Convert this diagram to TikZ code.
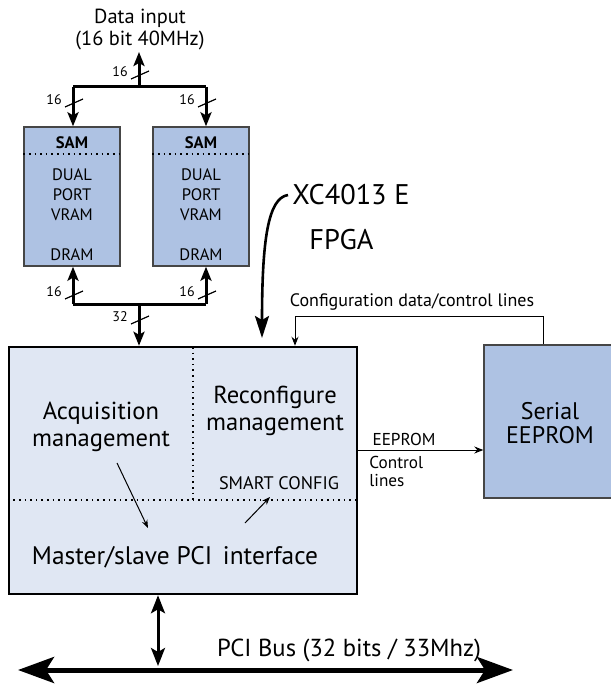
\documentclass[tikz,border=0pt]{standalone}
\usepackage{fontspec}
\setmainfont{PT Sans}
\usetikzlibrary{arrows.meta, positioning}

\definecolor{ramblue}{RGB}{174,194,227}
\definecolor{fpgablue}{RGB}{224,231,243}
\definecolor{edge}{RGB}{70,70,70}

\begin{document}
\begin{tikzpicture}[x=0.5pt, y=-0.5pt,
  ram/.style={draw=edge, line width=0.7pt, fill=ramblue, minimum width=48pt, minimum height=69.5pt, inner sep=0pt},
  ramtxt/.style={font=\fontsize{8.3pt}{10pt}\selectfont, align=center, inner sep=0pt},
  sep/.style={dotted, line width=0.8pt},
  bus/.style={line width=1.5pt, -{Stealth[length=7pt, width=5.5pt, inset=1.5pt]}},
  slash/.style={line width=0.6pt},
  width/.style={font=\fontsize{7pt}{8pt}\selectfont, inner sep=0pt},
  fpga/.style={draw, line width=1.25pt, fill=fpgablue, minimum width=174pt, minimum height=123.5pt, inner sep=0pt},
  block/.style={font=\fontsize{12.3pt}{13.5pt}\selectfont, align=center, inner sep=0pt},
  inner/.style={line width=0.5pt, -{Stealth[length=4pt, width=3pt]}},
  thin/.style={line width=0.5pt, -{Stealth[length=4.5pt, width=3.5pt]}},
  small/.style={font=\fontsize{8.6pt}{9pt}\selectfont, align=left, inner sep=0pt},
  big/.style={font=\fontsize{14.2pt}{15pt}\selectfont, inner sep=0pt}]

  \useasboundingbox (0,0) rectangle (610,684);

  % dual port VRAMs
  \node [ram] (ramL) at (72,196.5) {};
  \node [ram] (ramR) at (201,196.5) {};
  \foreach \r in {ramL, ramR} {
    \draw [sep] ([yshift=-14pt]\r.north west) -- ([yshift=-14pt]\r.north east);
    \node [ramtxt, font=\fontsize{8.3pt}{10pt}\selectfont\bfseries] at ([yshift=-8pt]\r.north) {SAM};
    \node [ramtxt] at ([yshift=0.75pt]\r.center) {DUAL\\PORT\\VRAM};
    \node [ramtxt] at ([yshift=6pt]\r.south) {DRAM};
  }

  % data input bus
  \node [ramtxt, font=\fontsize{10.2pt}{11pt}\selectfont] (din) at (140,30) {Data input\\(16 bit 40MHz)};
  \coordinate (dinTip) at (139,52);
  \coordinate (topL) at (73,87);
  \coordinate (topM) at (139,87);
  \coordinate (topR) at (206,87);
  \draw [line width=1.5pt] (topL) -- (topR);
  \draw [bus] (topM) -- (dinTip);
  \draw [bus] (topL) -- (topL |- ramL.north);
  \draw [bus] (topR) -- (topR |- ramR.north);

  % memory bus
  \node [fpga] (fpga) at (183,470.5) {};
  \coordinate (botL) at (73,304);
  \coordinate (botM) at (139,304);
  \coordinate (botR) at (206,304);
  \draw [line width=1.5pt] (botL) -- (botR);
  \draw [bus] (botL) -- (botL |- ramL.south);
  \draw [bus] (botR) -- (botR |- ramR.south);
  \draw [bus] (botM) -- (botM |- fpga.north);

  % bus widths
  \foreach \x/\y/\w in {139/75/16, 73/103/16, 206/103/16, 73/295/16, 206/295/16, 139/320/32} {
    \draw [slash] (\x+1,\y) ++(-9,4) -- ++(18,-8);
    \node [width] at (\x-19,\y-3) {\w};
  }

  % FPGA blocks
  \draw [sep] (193,347) -- (193,500);
  \draw [sep] (fpga.west |- 0,500) -- (fpga.east |- 0,500);
  \node [block] (acq) at (101,427) {Acquisition\\management};
  \node [block] (reconf) at (275,411) {Reconfigure\\management};
  \node [block, font=\fontsize{9.1pt}{11pt}\selectfont] (smart) at (279,483) {SMART CONFIG};
  \node [big, font=\fontsize{12.7pt}{15pt}\selectfont] (pci) at (175,557) {Master/slave PCI \hspace{2pt}interface};
  \coordinate (acqOut) at (117,463);
  \coordinate (pciIn) at (148,528);
  \coordinate (pciOut) at (245,523);
  \coordinate (smartIn) at (270,497);
  \draw [inner] (acqOut) -- (pciIn);
  \draw [inner] (pciOut) -- (smartIn);

  % XC4013 E label
  \node [big, anchor=west] (xc) at (292,195) {XC4013 E};
  \node [big, anchor=west] (fpgalbl) at (309,240) {FPGA};
  \coordinate (xcEnd) at (262,338);
  \draw [line width=1.3pt, -{Stealth[length=11pt, width=7pt, inset=2pt]}] ([xshift=-2pt]xc.west) .. controls (268,198) and (262,240) .. (xcEnd);

  % serial EEPROM
  \node [draw=edge, line width=0.7pt, fill=ramblue, minimum width=65pt, minimum height=76.5pt] (eeprom) at (549,421.5) {};
  \node [block, font=\fontsize{12pt}{12pt}\selectfont] at (550,423) {Serial\\EEPROM};
  \coordinate (cfgL) at (295,316);
  \draw [thin] ([xshift=-3pt]eeprom.north) |- (cfgL) -- (cfgL |- fpga.north);
  \node [small, font=\fontsize{9pt}{9pt}\selectfont] (cfglbl) at (412,302) {Configuration data/control lines};
  \coordinate (ctl) at (0,450);
  \draw [thin] (fpga.east |- ctl) -- (eeprom.west |- ctl);
  \node [small] (ctlTop) at (404,439) {EEPROM};
  \node [small, anchor=west] (ctlBot) at (369,471) {Control\\lines};

  % PCI bus
  \coordinate (busL) at (18,670);
  \coordinate (busR) at (513,670);
  \coordinate (busTap) at (158,666);
  \draw [line width=2.5pt, {Stealth[length=18pt, width=13pt, inset=4pt]}-{Stealth[length=18pt, width=13pt, inset=4pt]}] (busL) -- (busR);
  \draw [line width=1.5pt, {Stealth[length=9pt, width=7pt, inset=2pt]}-{Stealth[length=9pt, width=7pt, inset=2pt]}] (fpga.south -| busTap) -- (busTap);
  \node [big, font=\fontsize{12.3pt}{15pt}\selectfont] (pcibus) at (349,650) {PCI Bus (32 bits / 33Mhz)};
\end{tikzpicture}
\end{document}
